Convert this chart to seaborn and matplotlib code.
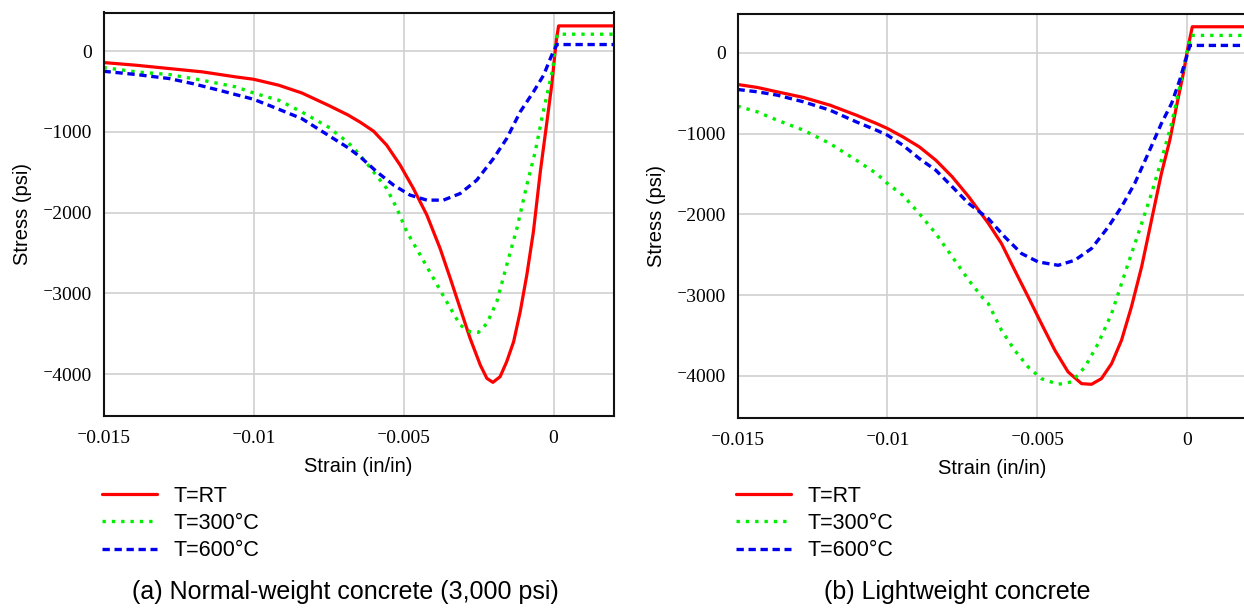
import pandas as pd
import matplotlib
matplotlib.use("Agg")
import matplotlib.pyplot as plt
import seaborn as sns

# strain (in/in) / stress (psi) points
# (a) normal-weight concrete
nw_rt_x = [-0.015, -0.0139, -0.0128, -0.0117, -0.01059, -0.01, -0.00916, -0.00839, -0.00751, -0.00685,
           -0.00644, -0.006, -0.00556, -0.00511, -0.00467, -0.00422, -0.00378, -0.00344, -0.00311,
           -0.00278, -0.00244, -0.00222, -0.00202, -0.00178, -0.00156, -0.00133, -0.00111, -0.00089,
           -0.00067, -0.00044, -0.00022, -0.00006, 0.00003, 0.0001, 0.00017, 0.002]
nw_rt_y = [-140, -174, -215, -256, -318, -347, -421, -517, -669, -790,
           -880, -990, -1164, -1412, -1701, -2031, -2444, -2815, -3187,
           -3558, -3889, -4054, -4103, -4033, -3847, -3600, -3228, -2774,
           -2237, -1494, -875, -421, -91, 150, 314, 314]
nw_300_x = [-0.015, -0.0139, -0.0128, -0.0117, -0.01059, -0.00993, -0.00916, -0.00839, -0.00751, -0.00685,
            -0.00644, -0.006, -0.00556, -0.00522, -0.00489, -0.00444, -0.004, -0.00356, -0.00311,
            -0.00278, -0.0025, -0.00222, -0.00189, -0.00156, -0.00122, -0.00089, -0.00061, -0.00039,
            -0.00017, -0.00002, 0.00006, 0.00013, 0.002]
nw_300_y = [-202, -256, -289, -360, -442, -525, -607, -752, -938, -1130,
            -1290, -1494, -1701, -1948, -2237, -2526, -2815, -3104, -3393,
            -3476, -3484, -3373, -3104, -2650, -2196, -1659, -1247, -834,
            -462, -215, 74, 211, 211]
nw_600_x = [-0.015, -0.0139, -0.0128, -0.01203, -0.01115, -0.01, -0.00927, -0.00839, -0.00751, -0.00685,
            -0.00644, -0.00589, -0.00533, -0.00478, -0.00422, -0.00367, -0.00311, -0.00256, -0.002,
            -0.00156, -0.00111, -0.00067, -0.00033, -0.00006, 0.00011, 0.002]
nw_600_y = [-248, -289, -339, -401, -483, -595, -702, -835, -1041, -1195,
            -1310, -1494, -1659, -1783, -1845, -1845, -1763, -1598, -1329,
            -1082, -751, -504, -297, -50, 83, 83]

# (b) lightweight concrete
lw_rt_x = [-0.015, -0.01434, -0.01368, -0.0128, -0.01192, -0.01104, -0.01037, -0.01, -0.00949, -0.00894,
           -0.00839, -0.00784, -0.00729, -0.00664, -0.0062, -0.00576, -0.00531, -0.00487, -0.00442,
           -0.00398, -0.00353, -0.0032, -0.00287, -0.00253, -0.0022, -0.00187, -0.00153, -0.0012,
           -0.00087, -0.00059, -0.00037, -0.00014, 0.00002, 0.00016, 0.002]
lw_rt_y = [-392, -429, -483, -553, -648, -772, -875, -937, -1040, -1164,
           -1329, -1536, -1783, -2110, -2361, -2691, -3022, -3352, -3682,
           -3950, -4095, -4103, -4033, -3847, -3558, -3146, -2650, -2072,
           -1494, -1082, -669, -256, 74, 322, 322]
lw_300_x = [-0.015, -0.01434, -0.01368, -0.0128, -0.01192, -0.01104, -0.01037, -0.01, -0.00949, -0.00894,
            -0.00839, -0.00784, -0.00729, -0.00685, -0.00664, -0.0062, -0.00576, -0.00531, -0.00487,
            -0.00431, -0.00387, -0.00342, -0.00298, -0.00253, -0.00209, -0.00164, -0.0012, -0.00087,
            -0.00053, -0.00026, -0.00003, 0.00013, 0.002]
lw_300_y = [-660, -731, -834, -958, -1123, -1329, -1494, -1618, -1763, -1990,
            -2237, -2526, -2815, -3022, -3104, -3434, -3682, -3889, -4033,
            -4103, -4074, -3889, -3600, -3228, -2733, -2237, -1742, -1329,
            -875, -421, -8, 215, 215]
lw_600_x = [-0.015, -0.01434, -0.01368, -0.0128, -0.01192, -0.01104, -0.01037, -0.01, -0.00949, -0.00894,
            -0.00839, -0.00784, -0.00729, -0.00664, -0.00609, -0.00553, -0.00498, -0.00431, -0.00376,
            -0.0032, -0.00264, -0.0022, -0.00176, -0.00131, -0.00087, -0.00053, -0.00026, -0.00003,
            0.00008, 0.002]
lw_600_y = [-454, -483, -524, -607, -710, -855, -958, -1020, -1143, -1309,
            -1453, -1659, -1866, -2052, -2279, -2485, -2588, -2630, -2568,
            -2423, -2155, -1907, -1618, -1247, -875, -627, -338, -50,
            91, 91]

series_names = ["T=RT", "T=300°C", "T=600°C"]
panel_titles = ["(a) Normal-weight concrete (3,000 psi)", "(b) Lightweight concrete"]
xtick_vals = [-0.015, -0.01, -0.005, 0]
xtick_labels = ["\u207b0.015", "\u207b0.01", "\u207b0.005", "0"]
ytick_vals = [-4000, -3000, -2000, -1000, 0]
ytick_labels = ["\u207b4000", "\u207b3000", "\u207b2000", "\u207b1000", "0"]

colors = ["#ff0000", "#00ee00", "#0000ee"]
styles = ["-", (0, (1, 1.8)), (0, (2.2, 1.4))]
widths = [2.3, 2.4, 2.4]
serif = ["Liberation Serif", "DejaVu Serif"]

sns.set_style("white")
plt.rcParams["font.family"] = ["Liberation Sans", "DejaVu Sans"]
plt.rcParams["text.color"] = "black"
plt.rcParams["axes.labelcolor"] = "black"
plt.rcParams["xtick.color"] = "black"
plt.rcParams["ytick.color"] = "black"

fig = plt.figure(figsize=(12.44, 6.09), dpi=100)
ax1 = fig.add_axes([103.5 / 1244, 193 / 609, 510 / 1244, 403.5 / 609])
ax2 = fig.add_axes([737.5 / 1244, 191 / 609, 510 / 1244, 404 / 609])

panels = [
    (ax1, [(nw_rt_x, nw_rt_y), (nw_300_x, nw_300_y), (nw_600_x, nw_600_y)], 102, 345.5),
    (ax2, [(lw_rt_x, lw_rt_y), (lw_300_x, lw_300_y), (lw_600_x, lw_600_y)], 736, 957),
]

for i, (ax, curves, leg_x, cap_x) in enumerate(panels):
    for (xs, ys), name, c, ls, w in zip(curves, series_names, colors, styles, widths):
        df = pd.DataFrame({"strain": xs, "stress": ys})
        sns.lineplot(data=df, x="strain", y="stress", ax=ax, color=c, linestyle=ls,
                     linewidth=w, label=name, estimator=None, sort=False)
    ax.set_xlim(-0.015, 0.002)
    ax.set_ylim(-4520, 480)
    ax.set_xticks(xtick_vals)
    ax.set_xticklabels(xtick_labels, family=serif, fontsize=14)
    ax.set_yticks(ytick_vals)
    ax.set_yticklabels(ytick_labels, family=serif, fontsize=14)
    ax.tick_params(axis="x", length=0, pad=10)
    ax.tick_params(axis="y", length=0, pad=8)
    ax.grid(True, color="#d0d0d0", linewidth=1.2)
    for sp in ax.spines.values():
        sp.set_color("#111111")
        sp.set_linewidth(1.5)
    ax.set_xlabel("Strain (in/in)", fontsize=14.5, va="center")
    ax.xaxis.set_label_coords(0.5, -50 / 403.5)
    ax.set_ylabel("Stress (psi)", fontsize=14.5, va="center")
    ax.yaxis.set_label_coords(-81 / 510, 0.5)
    ax.legend(loc="upper left", bbox_to_anchor=(leg_x / 1244, 1 - 486 / 609),
              bbox_transform=fig.transFigure, frameon=False, fontsize=15.5,
              handlelength=2.55, handletextpad=0.75, labelspacing=0.28, borderpad=0,
              borderaxespad=0)
    fig.text(cap_x / 1244, 1 - 592 / 609, panel_titles[i], ha="center", va="center", fontsize=18)

fig.savefig("out.png", dpi=100)
